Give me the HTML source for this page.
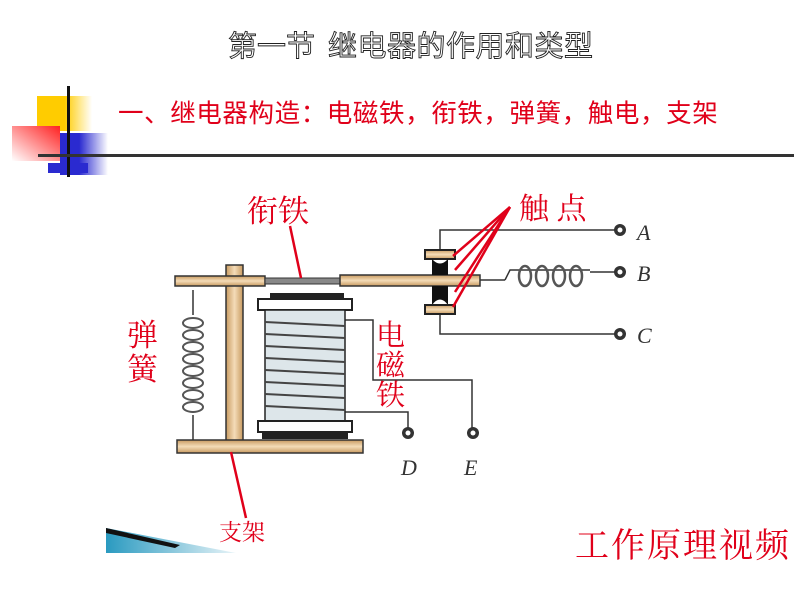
<!DOCTYPE html>
<html><head><meta charset="utf-8"><style>
html,body{margin:0;padding:0;background:#fff;width:794px;height:596px;overflow:hidden}
svg{display:block}
.s{font-family:"Liberation Sans","Noto Sans CJK SC",sans-serif}
.sf{font-family:"Liberation Serif","Noto Serif CJK SC",serif}
.r{fill:#e0001a}
</style></head><body>
<svg width="794" height="596" viewBox="0 0 794 596" xmlns="http://www.w3.org/2000/svg">
<defs>
<linearGradient id="gy" x1="0" x2="1"><stop offset="0.5" stop-color="#ffcc00"/><stop offset="1" stop-color="#fff"/></linearGradient>
<linearGradient id="gr" x1="1" y1="0" x2="0" y2="1"><stop offset="0" stop-color="#ff2020"/><stop offset="1" stop-color="#fff"/></linearGradient>
<linearGradient id="gb" x1="0" x2="1"><stop offset="0.4" stop-color="#2a2ad0"/><stop offset="1" stop-color="#fff"/></linearGradient>
<linearGradient id="gt" x1="0" x2="1"><stop offset="0" stop-color="#2a9ac0"/><stop offset="1" stop-color="#e8f4f8"/></linearGradient>
<linearGradient id="tan" x1="0" y1="0" x2="0" y2="1"><stop offset="0" stop-color="#c89a60"/><stop offset="0.5" stop-color="#f4dcb8"/><stop offset="1" stop-color="#c89a60"/></linearGradient>
<linearGradient id="tanv" x1="0" x2="1"><stop offset="0" stop-color="#c89a60"/><stop offset="0.5" stop-color="#f4dcb8"/><stop offset="1" stop-color="#c89a60"/></linearGradient>
</defs>
<rect x="37" y="96" width="55" height="35" fill="url(#gy)"/>
<rect x="12" y="126" width="48" height="35" fill="url(#gr)"/>
<rect x="60" y="133" width="48" height="42" fill="url(#gb)"/>
<rect x="48" y="163" width="40" height="10" fill="#2a2ad0"/>
<rect x="67" y="86" width="3" height="91" fill="#111"/>
<rect x="38" y="154" width="756" height="3" fill="#333"/>
<text class="s" x="228" y="56" font-size="29" fill="#fff" stroke="#222" stroke-width="0.9">第一节<tspan x="318">  </tspan><tspan x="328" letter-spacing="0.5">继电器的作用和类型</tspan></text>
<text class="s r" x="118" y="122" font-size="25.5" letter-spacing="0.6">一、继电器构造：电磁铁，衔铁，弹簧，触电，支架</text>
<g fill="none" stroke="#333" stroke-width="1.5">
<path d="M440 252 V230 H616"/><path d="M440 312 V334 H616"/>
<path d="M480 280 H505 M590 272 H616"/>
<path d="M505 280 L510 270 H590" />
<path d="M345 320 H373 V380 H472 V428"/><path d="M345 412 H408 V428"/>
<path d="M193 290 V315 M193 415 V440"/>
</g>
<g fill="none" stroke="#555" stroke-width="2.5">
<ellipse cx="525" cy="276" rx="6" ry="10"/><ellipse cx="542" cy="276" rx="6" ry="10"/><ellipse cx="559" cy="276" rx="6" ry="10"/><ellipse cx="576" cy="276" rx="6" ry="10"/>
</g>
<g fill="none" stroke="#555" stroke-width="2">
<ellipse cx="193" cy="323" rx="10" ry="5"/><ellipse cx="193" cy="335" rx="10" ry="5"/><ellipse cx="193" cy="347" rx="10" ry="5"/><ellipse cx="193" cy="359" rx="10" ry="5"/><ellipse cx="193" cy="371" rx="10" ry="5"/><ellipse cx="193" cy="383" rx="10" ry="5"/><ellipse cx="193" cy="395" rx="10" ry="5"/><ellipse cx="193" cy="407" rx="10" ry="5"/>
</g>
<g fill="#333"><circle cx="620" cy="230" r="6"/><circle cx="620" cy="272" r="6"/><circle cx="620" cy="334" r="6"/><circle cx="408" cy="433" r="6"/><circle cx="473" cy="433" r="6"/></g>
<g fill="#fff"><circle cx="620" cy="230" r="2.5"/><circle cx="620" cy="272" r="2.5"/><circle cx="620" cy="334" r="2.5"/><circle cx="408" cy="433" r="2.5"/><circle cx="473" cy="433" r="2.5"/></g>
<g class="sf" font-style="italic" font-size="22" fill="#333">
<text x="637" y="240">A</text><text x="637" y="281">B</text><text x="637" y="343">C</text><text x="401" y="475">D</text><text x="464" y="475">E</text></g>
<rect x="226" y="265" width="17" height="178" fill="url(#tanv)" stroke="#333" stroke-width="1.5"/>
<rect x="175" y="276" width="90" height="10" fill="url(#tan)" stroke="#333" stroke-width="1.5"/>
<rect x="265" y="278" width="76" height="6" fill="#888" stroke="#333"/>
<rect x="340" y="275" width="140" height="11" fill="url(#tan)" stroke="#333" stroke-width="1.5"/>
<rect x="177" y="440" width="186" height="13" fill="url(#tan)" stroke="#333" stroke-width="1.5"/>
<rect x="270" y="293" width="74" height="6" fill="#222"/>
<rect x="258" y="299" width="94" height="11" fill="#fff" stroke="#222" stroke-width="2"/>
<rect x="265" y="310" width="80" height="111" fill="#dde6ea" stroke="#222" stroke-width="1.5"/>
<g stroke="#444" stroke-width="2">
<line x1="265" y1="322" x2="345" y2="326"/><line x1="265" y1="334" x2="345" y2="338"/><line x1="265" y1="346" x2="345" y2="350"/><line x1="265" y1="358" x2="345" y2="362"/><line x1="265" y1="370" x2="345" y2="374"/><line x1="265" y1="382" x2="345" y2="386"/><line x1="265" y1="394" x2="345" y2="398"/><line x1="265" y1="406" x2="345" y2="410"/></g>
<rect x="258" y="421" width="94" height="11" fill="#fff" stroke="#222" stroke-width="2"/>
<rect x="262" y="432" width="86" height="7" fill="#222"/>
<rect x="425" y="250" width="30" height="9" fill="url(#tan)" stroke="#222" stroke-width="2"/>
<path d="M432 259 Q440 268 448 259 L448 275 L432 275 Z" fill="#111"/>
<path d="M432 286 L448 286 L448 305 Q440 294 432 305 Z" fill="#111"/>
<rect x="425" y="305" width="30" height="9" fill="url(#tan)" stroke="#222" stroke-width="2"/>
<g stroke="#e0001a" stroke-width="2.5">
<line x1="290" y1="226" x2="301" y2="278"/>
<line x1="510" y1="207" x2="453" y2="256"/><line x1="510" y1="207" x2="455" y2="270"/><line x1="510" y1="207" x2="455" y2="292"/><line x1="510" y1="207" x2="453" y2="307"/>
<line x1="231" y1="452" x2="246" y2="518"/>
</g>
<g class="sf r">
<text x="247" y="222" font-size="31">衔铁</text>
<text x="519" y="219" font-size="30">触 点</text>
<text x="127" y="346" font-size="31">弹</text><text x="127" y="380" font-size="31">簧</text>
<text x="376" y="345" font-size="29">电</text><text x="376" y="375" font-size="29">磁</text><text x="376" y="405" font-size="29">铁</text>
<text x="219" y="540" font-size="23">支架</text>
<text x="575" y="557" font-size="34" letter-spacing="2">工作原理视频</text>
</g>
<path d="M106 528 L236 553 L106 553 Z" fill="url(#gt)"/>
<path d="M106 528 L180 545 L175 548 L106 533 Z" fill="#111"/>
</svg>
</body></html>
